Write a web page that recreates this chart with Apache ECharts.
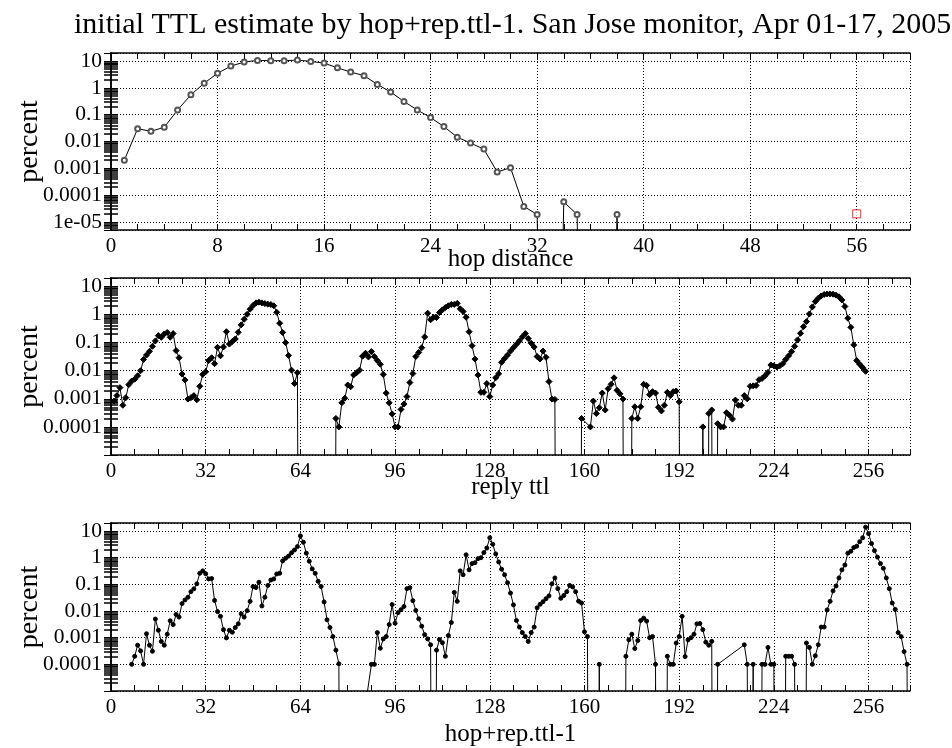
<!DOCTYPE html>
<html>
<head>
<meta charset="utf-8">
<script src="https://cdn.jsdelivr.net/npm/echarts@6/dist/echarts.min.js"></script>
<style>
html,body{margin:0;padding:0;background:#fff;}
#chart{width:952px;height:748px;}
</style>
</head>
<body>
<div id="chart"></div>
<script>
// ---------- data ----------
const titleText = 'initial TTL estimate by hop+rep.ttl-1. San Jose monitor, Apr 01-17, 2005';
const xNames = ['hop distance', 'reply ttl', 'hop+rep.ttl-1'];
const yName = 'percent';

// panel 1: hop distance
const hopX = [1,2,3,4,5,6,7,8,9,10,11,12,13,14,15,16,17,18,19,20,21,22,23,24,25,26,27,28,29,30,31,32,33,34,35,36,37,38,39];
const hopPct = [0.002,0.03,0.024,0.034,0.15,0.55,1.5,3.5,6.5,9.2,10.6,10.3,10.3,10.9,9.7,8.4,5.6,3.9,2.85,1.35,
  0.7,0.31,0.15,0.078,0.036,0.0145,0.0087,0.0052,0.00073,0.00105,3.8e-5,1.9e-5,0,5.6e-5,1.9e-5,0,0,1.9e-5,0];
const hopMarkX = [56];
const hopMarkPct = [2e-5];

// panel 2: reply ttl
const ttlX = [1,2,3,4,5,6,7,8,9,10,11,12,13,14,15,16,17,18,19,20,21,22,23,24,25,26,27,28,29,30,31,32,
  33,34,35,36,37,38,39,40,41,42,43,44,45,46,47,48,49,50,51,52,53,54,55,56,57,58,59,60,61,62,63,64,
  75,76,77,78,79,80,81,82,83,84,85,86,87,88,89,90,91,92,93,94,95,96,97,98,99,100,101,102,103,104,105,
  106,107,108,109,110,111,112,113,114,115,116,117,118,119,120,121,122,123,124,125,126,127,128,129,130,
  131,132,133,134,135,136,137,138,139,140,141,142,143,144,145,146,147,148,149,150,151,
  158,159,162,163,164,165,166,167,168,169,170,171,172,173,174,175,176,177,178,179,180,181,182,183,184,
  185,186,187,188,189,190,191,192,193,
  199,200,201,202,203,204,205,206,207,208,209,210,211,212,213,214,215,216,217,218,219,220,221,222,223,
  224,225,226,227,228,229,230,231,232,233,234,235,236,237,238,239,240,241,242,243,244,245,246,247,248,
  249,250,251,252,253,254,255];
const ttlPct = [
  8.3e-4,1.3e-3,2.5e-3,5.9e-4,1.1e-3,3.2e-3,4.3e-3,5.0e-3,6.6e-3,0.010,
  0.025,0.036,0.049,0.074,0.115,0.178,0.155,0.204,0.23,0.155,
  0.21,0.052,0.029,0.0076,0.0047,0.00098,0.0011,0.0013,0.00092,0.0028,
  0.0074,0.0092,0.023,0.029,0.0178,0.068,0.034,0.07,0.245,0.089,
  0.11,0.135,0.234,0.43,0.68,1.02,1.55,2.1,2.6,2.76,
  2.6,2.45,2.34,2.28,2.05,1.2,0.49,0.23,0.1,0.035,
  0.0105,0.0035,0.0085,0,
  0,2e-4,1e-4,7.2e-4,1.05e-3,0.0031,
  0.0027,0.0071,0.0085,0.0105,0.033,0.042,0.031,0.048,0.032,0.023,
  0.017,0.0074,0.0016,7.2e-4,2.9e-4,1e-4,1e-4,4.2e-4,6.5e-4,0.0012,
  0.0038,0.0079,0.032,0.045,0.066,0.16,1.12,0.65,0.8,0.78,
  1.18,1.47,1.78,2.05,2.3,2.3,2.5,1.6,1.28,0.8,
  0.245,0.078,0.026,0.007,0.0017,0.0017,0.0035,0.0012,0.0031,0.0056,
  0.0078,0.02,0.027,0.036,0.05,0.066,0.087,0.115,0.16,0.21,
  0.14,0.095,0.07,0.032,0.026,0.05,0.03,0.0041,0.00098,0.00095,0,
  0,2e-4,
  1e-4,8.3e-4,3e-4,4.8e-4,0.0016,4e-4,0.0023,0.0033,0.0056,0.002,0.0015,0.00098,
  0,0,2e-4,5.2e-4,2e-4,5.2e-4,0.0033,0.003,0.0014,0.0018,
  0.0016,5e-4,3.7e-4,5.9e-4,0.0017,0.0013,0.0018,0.0019,7.8e-4,0,
  0,1e-4,0,3e-4,4e-4,0,1.3e-4,
  1e-4,1e-4,3.2e-4,2.6e-4,1.9e-4,9e-4,5.9e-4,5.9e-4,0.0013,0.001,
  0.0028,0.0029,0.003,0.0048,0.0053,0.0066,0.0087,0.016,0.015,0.0135,
  0.015,0.0178,0.025,0.034,0.048,0.074,0.125,0.215,0.37,0.56,
  1.05,1.87,2.9,3.8,4.6,5.2,5.4,5.4,5.3,4.9,
  4.3,3.3,1.94,0.74,0.35,0.083,0.023,0.017,0.013,0.0095];

// panel 3: hop + reply ttl - 1
const estX = [7,8,9,10,11,12,13,14,15,16,17,18,19,20,21,22,23,24,25,26,27,28,29,30,31,32,33,34,35,36,37,38,
  39,40,41,42,43,44,45,46,47,48,49,50,51,52,53,54,55,56,57,58,59,60,61,62,63,64,65,66,67,68,69,70,71,72,
  73,74,75,76,77,78,
  86,
  88,89,90,91,92,93,94,95,96,97,98,99,100,101,102,103,104,105,106,107,108,109,110,111,112,113,114,115,
  116,117,118,119,120,121,122,123,124,125,126,127,128,129,130,131,132,133,134,135,136,137,138,139,140,
  141,142,143,144,145,146,147,148,149,150,151,152,153,154,155,156,157,158,159,160,161,162,
  164,165,166,
  173,174,175,176,177,178,179,180,181,182,183,184,185,
  187,188,189,190,191,192,193,194,195,196,197,198,199,200,201,202,203,204,205,
  214,215,216,217,218,219,220,221,222,223,224,225,
  227,228,229,230,231,232,
  234,235,236,237,238,239,240,241,242,243,244,245,246,247,248,249,250,251,252,253,254,255,256,257,258,
  259,260,261,262,263,264,265,266,267,268,269,270];
const estPct = [
  1e-4,2e-4,5.2e-4,3.2e-4,1e-4,0.0014,5.2e-4,3.1e-4,0.005,0.0019,
  7.2e-4,5.2e-4,0.00135,0.0043,0.0031,0.0074,0.0059,0.019,0.026,0.033,
  0.053,0.068,0.105,0.26,0.32,0.25,0.16,0.165,0.025,0.0095,
  0.0063,0.002,0.00098,0.0019,0.0016,0.0024,0.0033,0.0079,0.0059,0.0103,
  0.023,0.083,0.076,0.12,0.0155,0.033,0.091,0.145,0.16,0.245,
  0.26,0.76,0.95,1.15,1.52,1.94,2.6,6.6,3.8,1.48,
  0.74,0.38,0.26,0.13,0.083,0.022,0.0047,0.0024,0.0011,3.4e-4,
  1.05e-4,0,
  3e-6,
  1e-4,1e-4,0.00155,4e-4,9e-4,0.0011,0.0031,0.0174,0.0035,0.0087,
  0.0112,0.0148,0.069,0.075,0.0245,0.0105,0.0051,0.0027,0.0013,9e-4,
  5.4e-4,0,3.4e-4,8.5e-4,6.5e-4,2e-4,0.0012,0.0037,0.05,0.023,
  0.32,0.23,1.28,0.35,0.6,0.65,0.92,1.0,1.55,2.3,
  5.6,3.2,1.39,0.69,0.37,0.23,0.115,0.047,0.017,0.0044,
  0.0025,0.00155,0.0011,7.2e-4,0.00155,0.0025,0.0132,0.0178,0.0224,0.029,
  0.037,0.105,0.174,0.069,0.03,0.038,0.053,0.091,0.08,0.053,
  0.0234,0.02,0.00166,0.0011,0,
  0,1e-4,0,
  0,2e-4,8.3e-4,0.00135,3.9e-4,7.8e-4,0.0044,0.0054,0.0042,0.001,0.0011,1e-4,0,
  0,2e-4,1e-4,1e-4,6.3e-4,0.0011,0.0063,1.95e-4,8.3e-4,0.001,0.00135,0.0033,0.0034,0.002,6.8e-4,5.2e-4,7.3e-4,0,1e-4,
  5.4e-4,1e-4,0,1e-4,0,0,1e-4,1e-4,4.3e-4,1e-4,1e-4,0,
  0,2e-4,2e-4,2e-4,1e-4,0,
  0,6.3e-4,4.3e-4,1e-4,2.1e-4,5.4e-4,0.0025,0.0025,0.011,0.023,
  0.057,0.087,0.174,0.35,0.53,1.48,1.74,2.4,2.7,4.0,
  5.6,14,8,3.4,1.84,1.05,0.6,0.4,0.174,0.069,
  0.02,0.0115,0.00155,0.0011,3e-4,1e-4,0];

// ---------- layout / style ----------
const FONT = '"Liberation Serif", "Times New Roman", serif';
const ZERO_FLOOR = 1e-30; // zero counts fall off the bottom of the log axis
const grids = [
  {left: 111, right: 42, top: 53, height: 177},
  {left: 111, right: 42, top: 278, height: 177},
  {left: 111, right: 42, top: 523, height: 174}
];
const xMax = [60, 270, 270];
const xMajor = [8, 32, 32];
const xMinor = [2, 8, 8];
const yMin = [5e-6, 1e-5, 1e-5];
const yMax = [20, 20, 20];
const xNameGap = [17, 20, 31];

function toData(xs, ys) {
  return xs.map((x, i) => ys[i] > 0 ? [x, ys[i]] : {value: [x, ZERO_FLOOR], symbol: 'none'});
}
function logLabel(v) {
  const e = Math.round(Math.log10(v));
  if (e >= 0) return String(Math.pow(10, e));
  if (e >= -4) return '0.' + '0'.repeat(-e - 1) + '1';
  return '1e-0' + (-e);
}

const black = '#000';
const dotted = {color: black, width: 1, type: [1, 2]};
const xAxes = [], yAxes = [];
for (let p = 0; p < 3; p++) {
  xAxes.push({
    gridIndex: p, type: 'value', position: 'bottom', min: 0, max: xMax[p], interval: xMajor[p],
    axisLine: {show: true, lineStyle: {color: black, width: 1.5}},
    axisTick: {show: false},
    axisLabel: {show: true, showMaxLabel: false, color: black, fontFamily: FONT, fontSize: 21, margin: 6},
    splitLine: {show: true, lineStyle: dotted},
    name: xNames[p], nameLocation: 'middle', nameGap: xNameGap[p], nameMoveOverlap: false,
    nameTextStyle: {color: black, fontFamily: FONT, fontSize: 25}
  });
  xAxes.push({
    gridIndex: p, type: 'value', position: 'bottom', min: 0, max: xMax[p], interval: xMinor[p],
    axisLine: {show: false}, axisLabel: {show: false}, splitLine: {show: false},
    axisTick: {show: true, inside: true, length: 6, lineStyle: {color: black, width: 1}}
  });
  xAxes.push({
    gridIndex: p, type: 'value', position: 'top', min: 0, max: xMax[p], interval: xMinor[p],
    axisLine: {show: true, lineStyle: {color: black, width: 1.5}}, axisLabel: {show: false}, splitLine: {show: false},
    axisTick: {show: true, inside: true, length: 6, lineStyle: {color: black, width: 1}}
  });
  const yCommon = {
    gridIndex: p, type: 'log', logBase: 10, min: yMin[p], max: yMax[p],
    axisLine: {show: true, lineStyle: {color: black, width: 1.5}},
    axisTick: {show: true, inside: true, length: 7, lineStyle: {color: black, width: 1}},
    minorTick: {show: true, splitNumber: 9, length: 7, lineStyle: {color: black, width: 1.5}}
  };
  yAxes.push(Object.assign({}, yCommon, {
    position: 'left',
    axisLabel: {show: true, formatter: logLabel, showMinLabel: false, showMaxLabel: false,
      color: black, fontFamily: FONT, fontSize: 21.5, margin: 9},
    splitLine: {show: true, lineStyle: dotted},
    name: yName, nameLocation: 'middle', nameGap: 67, nameMoveOverlap: false,
    nameTextStyle: {color: black, fontFamily: FONT, fontSize: 28}
  }));
  yAxes.push(Object.assign({}, yCommon, {
    position: 'right', axisLabel: {show: false}, splitLine: {show: false}
  }));
}

const lineBase = {
  type: 'line', showAllSymbol: true, clip: true, animation: false,
  lineStyle: {color: black, width: 1},
  itemStyle: {color: black, borderColor: black, borderWidth: 1}
};
const series = [
  Object.assign({}, lineBase, {xAxisIndex: 0, yAxisIndex: 0, symbol: 'emptyCircle', symbolSize: 5,
    itemStyle: {color: '#555', borderColor: black, borderWidth: 1.2},
    data: toData(hopX, hopPct)}),
  {type: 'scatter', xAxisIndex: 0, yAxisIndex: 0, symbol: 'rect', symbolSize: 8, animation: false,
    itemStyle: {color: '#fff', borderColor: '#e00000', borderWidth: 1},
    data: toData(hopMarkX, hopMarkPct)},
  Object.assign({}, lineBase, {xAxisIndex: 3, yAxisIndex: 2, symbol: 'diamond', symbolSize: 6,
    data: toData(ttlX, ttlPct)}),
  Object.assign({}, lineBase, {xAxisIndex: 6, yAxisIndex: 4, symbol: 'circle', symbolSize: 4,
    data: toData(estX, estPct)})
];

const chart = echarts.init(document.getElementById('chart'), null, {renderer: 'canvas'});
chart.setOption({
  animation: false,
  backgroundColor: '#fff',
  title: {text: titleText, left: 69, top: 5,
    textStyle: {color: black, fontFamily: FONT, fontSize: 30, fontWeight: 'normal'}},
  grid: grids,
  xAxis: xAxes,
  yAxis: yAxes,
  series: series
});
</script>
</body>
</html>
